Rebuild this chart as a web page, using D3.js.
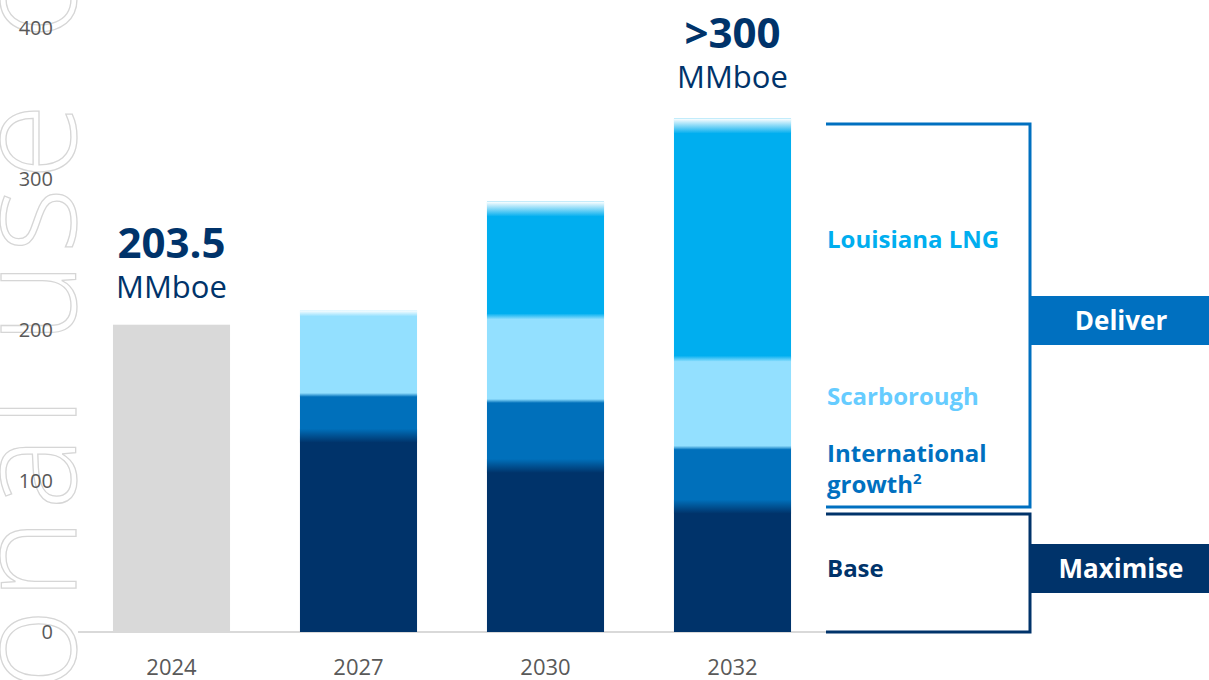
<!DOCTYPE html>
<html>
<head>
<meta charset="utf-8">
<script src="https://cdn.jsdelivr.net/npm/d3@7"></script>
<style>
  body { margin: 0; background: #fff; }
  svg { display: block; font-family: "Open Sans", "Noto Sans", sans-serif; }
</style>
</head>
<body>
<script>
"use strict";

// data (MMboe)
var years = ["2024", "2027", "2030", "2032"];
var actual = [203.5, 0, 0, 0];
var base = [0, 130, 110, 83];
var international = [0, 27, 43, 39];
var scarborough = [0, 56, 56, 59];
var louisiana = [0, 0, 76, 159];
var yTicks = [0, 100, 200, 300, 400];

var keys = ["actual", "base", "international", "scarborough", "louisiana"];
var colors = {
  actual: "#d9d9d9",
  base: "#00336a",
  international: "#0070bb",
  scarborough: "#93e0ff",
  louisiana: "#00aeef"
};
// height of the soft edge on top of each segment
var fadeSize = { actual: 0, base: 14, international: 4, scarborough: 6, louisiana: 15 };

var width = 1209, height = 680;

var rows = years.map(function (y, i) {
  return {
    year: y, actual: actual[i], base: base[i], international: international[i],
    scarborough: scarborough[i], louisiana: louisiana[i]
  };
});

var svg = d3.select("body").append("svg")
  .attr("width", width)
  .attr("height", height);

var defs = svg.append("defs");

var x = d3.scaleBand()
  .domain(years)
  .range([78, 826])
  .paddingInner(0.374)
  .paddingOuter(0.187);

var y = d3.scaleLinear()
  .domain([0, 400])
  .range([632, 28]);

// watermark, reading bottom to top
var mark = svg.append("g")
  .attr("font-size", 140)
  .attr("font-weight", 300)
  .attr("letter-spacing", 8)
  .attr("fill", "none")
  .attr("stroke", "#d6d6d6")
  .attr("stroke-width", 1.3);
mark.append("text")
  .attr("transform", "translate(76,95) rotate(-90)")
  .attr("text-anchor", "end")
  .text("For personal use");
mark.append("text")
  .attr("transform", "translate(76,40) rotate(-90)")
  .text("only");

// y axis labels
svg.append("g").selectAll("text")
  .data(yTicks)
  .enter().append("text")
  .attr("x", 53)
  .attr("y", function (d) { return y(d); })
  .attr("dy", "0.35em")
  .attr("text-anchor", "end")
  .attr("font-size", 20)
  .attr("fill", "#595959")
  .text(function (d) { return d; });

// baseline
svg.append("line")
  .attr("x1", 78).attr("x2", 826)
  .attr("y1", y(0)).attr("y2", y(0))
  .attr("stroke", "#d9d9d9")
  .attr("stroke-width", 2);

var stacked = d3.stack().keys(keys)(rows);

var bars = svg.append("g");

stacked.forEach(function (layer) {
  bars.selectAll(".seg-" + layer.key)
    .data(layer.filter(function (d) { return d[1] > d[0]; }))
    .enter().append("rect")
    .attr("class", "seg-" + layer.key)
    .attr("x", function (d) { return x(d.data.year); })
    .attr("width", x.bandwidth())
    .attr("y", function (d) { return y(d[1]); })
    .attr("height", function (d) { return y(d[0]) - y(d[1]); })
    .attr("fill", colors[layer.key]);
});

// soft edges: each segment fades into whatever sits on top of it
var gradCount = 0;
function gradient(topColor, bottomColor) {
  var id = "g" + (gradCount++);
  var g = defs.append("linearGradient")
    .attr("id", id)
    .attr("x1", 0).attr("y1", 0).attr("x2", 0).attr("y2", 1);
  g.append("stop").attr("offset", "0%").attr("stop-color", topColor);
  g.append("stop").attr("offset", "100%").attr("stop-color", bottomColor);
  return "url(#" + id + ")";
}

rows.forEach(function (row) {
  keys.forEach(function (key, k) {
    if (!row[key] || !fadeSize[key]) return;
    var above = null;
    for (var j = k + 1; j < keys.length; j++) {
      if (row[keys[j]]) { above = keys[j]; break; }
    }
    var layer = stacked[k].find(function (d) { return d.data.year === row.year; });
    var top = y(layer[1]);
    var h = fadeSize[key];
    var y0 = above ? top - h / 2 : top;
    bars.append("rect")
      .attr("x", x(row.year))
      .attr("width", x.bandwidth())
      .attr("y", y0)
      .attr("height", h)
      .attr("fill", gradient(above ? colors[above] : "#ffffff", colors[key]));
  });
});

// x axis labels
svg.append("g").selectAll("text")
  .data(years)
  .enter().append("text")
  .attr("x", function (d) { return x(d) + x.bandwidth() / 2; })
  .attr("y", 675)
  .attr("text-anchor", "middle")
  .attr("font-size", 22)
  .attr("fill", "#595959")
  .text(function (d) { return d; });

// callouts above first and last bars
var callouts = [
  { year: "2024", big: "203.5", y: 258 },
  { year: "2032", big: ">300", y: 48 }
];
callouts.forEach(function (c) {
  var cx = x(c.year) + x.bandwidth() / 2;
  svg.append("text")
    .attr("x", cx).attr("y", c.y)
    .attr("text-anchor", "middle")
    .attr("font-size", 42)
    .attr("font-weight", 700)
    .attr("fill", "#00336a")
    .text(c.big);
  svg.append("text")
    .attr("x", cx).attr("y", c.y + 40)
    .attr("text-anchor", "middle")
    .attr("font-size", 31)
    .attr("fill", "#00336a")
    .text("MMboe");
});

// brackets on the right
svg.append("path")
  .attr("d", "M826,124H1030V507H826")
  .attr("fill", "none")
  .attr("stroke", "#0070c0")
  .attr("stroke-width", 3);
svg.append("path")
  .attr("d", "M826,514H1030V632H826")
  .attr("fill", "none")
  .attr("stroke", "#00336a")
  .attr("stroke-width", 3);

var tags = [
  { text: "Deliver", y: 296, fill: "#0070c0" },
  { text: "Maximise", y: 544, fill: "#00336a" }
];
tags.forEach(function (t) {
  svg.append("rect")
    .attr("x", 1031).attr("y", t.y)
    .attr("width", 178).attr("height", 49)
    .attr("fill", t.fill);
  svg.append("text")
    .attr("x", 1121).attr("y", t.y + 34)
    .attr("text-anchor", "middle")
    .attr("font-size", 26)
    .attr("font-weight", 700)
    .attr("fill", "#ffffff")
    .text(t.text);
});

// series labels
var labels = [
  { text: "Louisiana LNG", y: 248, fill: "#00aeef" },
  { text: "Scarborough", y: 405, fill: "#66ccff" },
  { text: "International", y: 462, fill: "#0070c0" },
  { text: "growth", y: 493, fill: "#0070c0", sup: "2" },
  { text: "Base", y: 577, fill: "#00336a" }
];
labels.forEach(function (l) {
  var t = svg.append("text")
    .attr("x", 827).attr("y", l.y)
    .attr("font-size", 24)
    .attr("font-weight", 700)
    .attr("fill", l.fill)
    .text(l.text);
  if (l.sup) {
    t.append("tspan")
      .attr("dy", -9)
      .attr("font-size", 15)
      .text(l.sup);
  }
});
</script>
</body>
</html>
